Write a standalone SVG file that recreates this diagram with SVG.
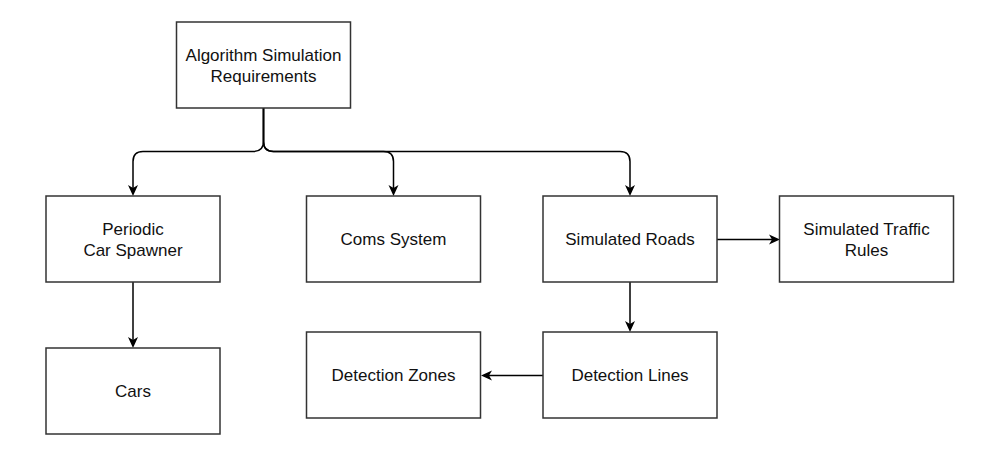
<svg xmlns="http://www.w3.org/2000/svg" width="983" height="469" viewBox="0 0 983 469">
<style>
.box{fill:#fff;stroke:#333;stroke-width:1.5}
.lbl{font-family:"Liberation Sans",Arial,sans-serif;font-size:17px;fill:#111;text-anchor:middle}
.edge{fill:none;stroke:#000;stroke-width:1.5}
</style>
<defs>
<marker id="arr" viewBox="-12 -6 14 12" refX="-3" refY="0" markerWidth="14" markerHeight="12" markerUnits="userSpaceOnUse" orient="auto">
<path d="M0,0 L-11,-5 L-8,0 L-11,5 Z" fill="#000"/>
</marker>
</defs>
<rect width="983" height="469" fill="#fff"/>
<g id="connectors">
<path class="edge" marker-end="url(#arr)" d="M263.5,108 V141.5 Q263.5,151.5 253.5,151.5 H143 Q133,151.5 133,161.5 V193"/>
<path class="edge" marker-end="url(#arr)" d="M263.5,108 V141.5 Q263.5,151.5 273.5,151.5 H383.5 Q393.5,151.5 393.5,161.5 V193"/>
<path class="edge" marker-end="url(#arr)" d="M263.5,108 V141.5 Q263.5,151.5 273.5,151.5 H620 Q630,151.5 630,161.5 V193"/>
<path class="edge" marker-end="url(#arr)" d="M133,282 V345"/>
<path class="edge" marker-end="url(#arr)" d="M630,282 V329"/>
<path class="edge" marker-end="url(#arr)" d="M717,239.5 H777"/>
<path class="edge" marker-end="url(#arr)" d="M543,375.5 H484"/>
</g>
<g id="node-requirements">
<rect class="box" x="176.5" y="22" width="174" height="86"/>
<text class="lbl" x="263.5" y="61">Algorithm Simulation</text>
<text class="lbl" x="263.5" y="82">Requirements</text>
</g>
<g id="node-spawner">
<rect class="box" x="46" y="196" width="174" height="86"/>
<text class="lbl" x="133" y="234.5">Periodic</text>
<text class="lbl" x="133" y="255.5">Car Spawner</text>
</g>
<g id="node-coms">
<rect class="box" x="306.5" y="196" width="174" height="86"/>
<text class="lbl" x="393.5" y="245">Coms System</text>
</g>
<g id="node-roads">
<rect class="box" x="543" y="196" width="174" height="86"/>
<text class="lbl" x="630" y="245">Simulated Roads</text>
</g>
<g id="node-rules">
<rect class="box" x="779.5" y="196" width="174" height="86"/>
<text class="lbl" x="866.5" y="234.5">Simulated Traffic</text>
<text class="lbl" x="866.5" y="255.5">Rules</text>
</g>
<g id="node-cars">
<rect class="box" x="46" y="348" width="174" height="86"/>
<text class="lbl" x="133" y="397">Cars</text>
</g>
<g id="node-zones">
<rect class="box" x="306.5" y="332" width="174" height="86"/>
<text class="lbl" x="393.5" y="381">Detection Zones</text>
</g>
<g id="node-lines">
<rect class="box" x="543" y="332" width="174" height="86"/>
<text class="lbl" x="630" y="381">Detection Lines</text>
</g>
</svg>
